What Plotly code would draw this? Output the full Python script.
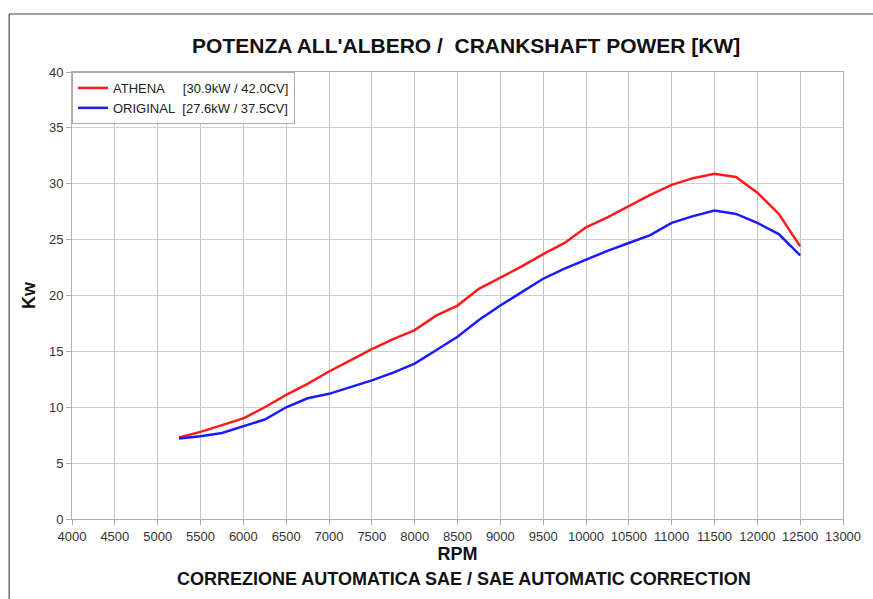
import plotly.graph_objects as go

rpm = [5250, 5500, 5750, 6000, 6250, 6500, 6750, 7000, 7250, 7500, 7750, 8000,
       8250, 8500, 8750, 9000, 9250, 9500, 9750, 10000, 10250, 10500, 10750,
       11000, 11250, 11500, 11750, 12000, 12250, 12500]
athena = [7.3, 7.8, 8.4, 9.0, 10.0, 11.1, 12.1, 13.2, 14.2, 15.2, 16.1, 16.9,
          18.2, 19.1, 20.6, 21.6, 22.6, 23.7, 24.7, 26.1, 27.0, 28.0, 29.0,
          29.9, 30.5, 30.9, 30.6, 29.2, 27.3, 24.4]
original = [7.2, 7.4, 7.7, 8.3, 8.9, 10.0, 10.8, 11.2, 11.8, 12.4, 13.1, 13.9,
            15.1, 16.3, 17.8, 19.1, 20.3, 21.5, 22.4, 23.2, 24.0, 24.7, 25.4,
            26.5, 27.1, 27.6, 27.3, 26.5, 25.5, 23.6]
x_ticks = list(range(4000, 13001, 500))
y_ticks = list(range(0, 41, 5))

NB = "\u00a0"
fig = go.Figure()
fig.add_trace(go.Scatter(x=rpm, y=athena, mode="lines",
                         name="ATHENA" + NB * 5 + "[30.9kW / 42.0CV]",
                         line=dict(color="#ff1a1a", width=2.5)))
fig.add_trace(go.Scatter(x=rpm, y=original, mode="lines",
                         name="ORIGINAL" + NB * 2 + "[27.6kW / 37.5CV]",
                         line=dict(color="#1a1aff", width=2.5)))

font_family = "Liberation Sans, Arial, sans-serif"
fig.update_layout(
    width=873, height=599,
    margin=dict(l=72, r=28, t=72, b=80),
    paper_bgcolor="white", plot_bgcolor="white",
    font=dict(family=font_family, color="#222"),
    title=dict(text="<b>POTENZA ALL'ALBERO /  CRANKSHAFT POWER [KW]</b>",
               x=0.534, xanchor="center", y=0.923, yanchor="middle",
               font=dict(size=21, color="#111")),
    showlegend=True,
    legend=dict(x=0, y=1, xanchor="left", yanchor="top",
                bgcolor="white", bordercolor="#aaaaaa", borderwidth=1,
                font=dict(size=13, color="#222"), tracegroupgap=0,
                itemwidth=30),
    xaxis=dict(range=[4000, 13000], tickvals=x_ticks,
               ticktext=[str(v) for v in x_ticks],
               showgrid=True, gridcolor="#c4c4c4", gridwidth=1,
               ticks="outside", ticklen=5, tickcolor="#aaaaaa",
               showline=True, linecolor="#b0b0b0", mirror=True,
               zeroline=False,
               tickfont=dict(size=13, color="#333"),
               title=dict(text="<b>RPM</b>", font=dict(size=18, color="#111"),
                          standoff=4)),
    yaxis=dict(range=[0, 40], tickvals=y_ticks,
               showgrid=True, gridcolor="#cfcfcf", gridwidth=1,
               ticks="outside", ticklen=5, tickcolor="#aaaaaa",
               showline=True, linecolor="#b0b0b0", mirror=True,
               zeroline=False,
               tickfont=dict(size=13, color="#333"),
               title=dict(text="<b>Kw</b>", font=dict(size=18, color="#111"),
                          standoff=8)),
    annotations=[dict(text="<b>CORREZIONE AUTOMATICA SAE / SAE AUTOMATIC CORRECTION</b>",
                      xref="paper", yref="paper", x=0.508, y=-0.134,
                      xanchor="center", yanchor="middle", showarrow=False,
                      font=dict(size=18, color="#111"))],
    shapes=[
        dict(type="line", xref="paper", yref="paper",
             x0=-0.0815, x1=1.04, y0=1.1298, y1=1.1298,
             line=dict(color="#444", width=1.2)),
        dict(type="line", xref="paper", yref="paper",
             x0=-0.0815, x1=-0.0815, y0=1.1298, y1=-0.2,
             line=dict(color="#444", width=1.2)),
    ],
)

fig.write_html("out.html", config={"displayModeBar": False},
               post_script="document.body.style.margin='0';document.body.style.overflow='hidden';")
